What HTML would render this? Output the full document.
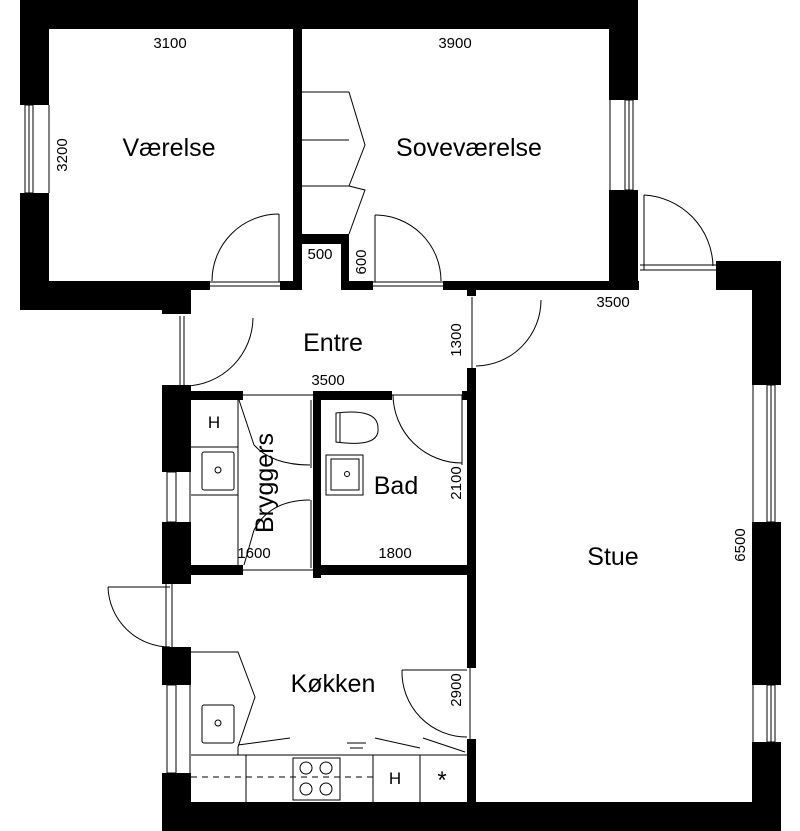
<!DOCTYPE html>
<html><head><meta charset="utf-8"><style>
html,body{margin:0;padding:0;background:#fff}
svg{display:block}
text{font-family:"Liberation Sans",sans-serif;fill:#000}
</style></head><body>
<svg width="800" height="831" viewBox="0 0 800 831" xmlns="http://www.w3.org/2000/svg">
<g fill="#000">
<rect x="20" y="0" width="618" height="29"/>
<rect x="20" y="0" width="29" height="105"/>
<rect x="20" y="193" width="29" height="117"/>
<rect x="20" y="281" width="171" height="29"/>
<rect x="162" y="281" width="29" height="33"/>
<rect x="49" y="281" width="161" height="9"/>
<rect x="293" y="29" width="9" height="261"/>
<rect x="280" y="281" width="22" height="9"/>
<rect x="302" y="234" width="47" height="10"/>
<rect x="341" y="234" width="8" height="56"/>
<rect x="341" y="281" width="32" height="9"/>
<rect x="609" y="0" width="29" height="100"/>
<rect x="609" y="190" width="29" height="100"/>
<rect x="443" y="281" width="196" height="9"/>
<rect x="716" y="261" width="65" height="29"/>
<rect x="752" y="261" width="29" height="124"/>
<rect x="752" y="522" width="29" height="163"/>
<rect x="752" y="742" width="29" height="89"/>
<rect x="162" y="802" width="619" height="29"/>
<rect x="467" y="281" width="9" height="15"/>
<rect x="467" y="368" width="9" height="300"/>
<rect x="467" y="739" width="9" height="63"/>
<rect x="162" y="385" width="29" height="87"/>
<rect x="162" y="522" width="29" height="62"/>
<rect x="162" y="647" width="29" height="38"/>
<rect x="162" y="773" width="29" height="58"/>
<rect x="191" y="391" width="52" height="9"/>
<rect x="313" y="391" width="79" height="9"/>
<rect x="462" y="391" width="14" height="9"/>
<rect x="313" y="391" width="8" height="187"/>
<rect x="191" y="565" width="52" height="10"/>
<rect x="313" y="565" width="163" height="10"/>
</g>
<g fill="none" stroke="#000" stroke-width="1">
<rect x="25" y="105" width="8" height="88"/><line x1="29" y1="105" x2="29" y2="193"/><line x1="49" y1="105" x2="49" y2="193"/>
<rect x="625" y="100" width="8" height="90"/><line x1="629" y1="100" x2="629" y2="190"/><line x1="610" y1="100" x2="610" y2="190"/>
<rect x="767" y="385" width="8" height="137"/><line x1="771" y1="385" x2="771" y2="522"/><line x1="753" y1="385" x2="753" y2="522"/>
<rect x="767" y="685" width="8" height="57"/><line x1="771" y1="685" x2="771" y2="742"/><line x1="753" y1="685" x2="753" y2="742"/>
<rect x="167" y="472" width="9" height="50"/><line x1="190" y1="472" x2="190" y2="522"/>
<rect x="167" y="685" width="9" height="88"/><line x1="190" y1="685" x2="190" y2="773"/>
<path d="M279 214 A67 67 0 0 0 212 281"/><line x1="279" y1="214" x2="279" y2="282"/><line x1="210" y1="282" x2="280" y2="282"/><line x1="210" y1="286" x2="280" y2="286"/>
<path d="M375 215 A66 66 0 0 1 441 281"/><line x1="375" y1="215" x2="375" y2="282"/><line x1="373" y1="282" x2="443" y2="282"/><line x1="373" y1="286" x2="443" y2="286"/>
<path d="M644 195 A73 73 0 0 1 713 266"/><line x1="644" y1="195" x2="644" y2="270"/><line x1="640" y1="265" x2="716" y2="265"/><line x1="640" y1="270" x2="716" y2="270"/>
<path d="M253 318 A69 69 0 0 1 186 386"/><line x1="184" y1="316" x2="184" y2="386"/><line x1="180" y1="316" x2="180" y2="386"/>
<path d="M541 300 A66 66 0 0 1 476 366"/><line x1="472" y1="297" x2="472" y2="368"/>
<path d="M393 395 A69 69 0 0 0 462 463"/><line x1="462" y1="395" x2="462" y2="465"/><line x1="392" y1="395" x2="462" y2="395"/>
<path d="M254 445 Q272 465 310 465"/><line x1="239" y1="400" x2="254" y2="445"/><line x1="243" y1="395" x2="313" y2="395"/><line x1="311" y1="400" x2="311" y2="468"/>
<path d="M310 500 Q270 500 254 530"/><line x1="254" y1="530" x2="244" y2="565"/><line x1="311" y1="500" x2="311" y2="568"/><line x1="243" y1="570" x2="313" y2="570"/>
<path d="M108 587 A62 62 0 0 0 170 647"/><line x1="108" y1="587" x2="170" y2="587"/><line x1="166" y1="584" x2="166" y2="647"/><line x1="172" y1="584" x2="172" y2="647"/>
<path d="M402 670 A65 65 0 0 0 467 737"/><line x1="470" y1="668" x2="470" y2="739"/><line x1="402" y1="670" x2="467" y2="670"/>
<line x1="302" y1="92" x2="349" y2="92"/><line x1="302" y1="140" x2="349" y2="140"/><line x1="302" y1="186" x2="349" y2="186"/>
<path d="M349 92 L365 145 L349 186 L365 190 L349 234"/>
<line x1="238" y1="400" x2="238" y2="565"/><line x1="191" y1="447" x2="238" y2="447"/><line x1="191" y1="495" x2="238" y2="495"/>
<rect x="202" y="452" width="32" height="38" rx="2"/><circle cx="218" cy="470" r="3"/>
<path d="M336 413 L336 442 Q380 448 378 428 Q378 408 336 413 Z"/><line x1="340" y1="413" x2="340" y2="442"/>
<rect x="326" y="455" width="37" height="40"/><rect x="331" y="459" width="28" height="31"/><circle cx="347" cy="474" r="2.5"/>
<path d="M191 652 L238 652 L255 697 L238 747 L238 755"/>
<rect x="202" y="705" width="32" height="38" rx="2"/><circle cx="218" cy="723" r="3"/>
<line x1="191" y1="755" x2="467" y2="755"/>
<line x1="246" y1="755" x2="246" y2="802"/><line x1="373" y1="755" x2="373" y2="802"/><line x1="420" y1="755" x2="420" y2="802"/>
<rect x="293" y="758" width="47" height="42"/>
<circle cx="306" cy="768" r="6"/><circle cx="326" cy="768" r="6"/><circle cx="306" cy="789" r="6"/><circle cx="326" cy="789" r="6"/>
<line x1="191" y1="777" x2="373" y2="777" stroke-dasharray="6,5"/>
<line x1="238" y1="745" x2="290" y2="738"/><line x1="375" y1="738" x2="420" y2="748"/><line x1="423" y1="738" x2="465" y2="752"/>
<line x1="347" y1="743" x2="366" y2="743"/><line x1="350" y1="748" x2="363" y2="748"/>
</g>
<g font-size="15">
<text x="170" y="48" text-anchor="middle">3100</text>
<text x="455" y="48" text-anchor="middle">3900</text>
<text x="320" y="259" text-anchor="middle">500</text>
<text x="328" y="385" text-anchor="middle">3500</text>
<text x="613" y="307" text-anchor="middle">3500</text>
<text x="254" y="558" text-anchor="middle">1600</text>
<text x="395" y="558" text-anchor="middle">1800</text>
<text text-anchor="middle" transform="translate(67,155) rotate(-90)">3200</text>
<text text-anchor="middle" transform="translate(366,262) rotate(-90)">600</text>
<text text-anchor="middle" transform="translate(461,340) rotate(-90)">1300</text>
<text text-anchor="middle" transform="translate(461,483) rotate(-90)">2100</text>
<text text-anchor="middle" transform="translate(461,690) rotate(-90)">2900</text>
<text text-anchor="middle" transform="translate(745,545) rotate(-90)">6500</text>
<text x="214" y="428" text-anchor="middle" font-size="17">H</text>
<text x="395" y="784" text-anchor="middle" font-size="17">H</text>
<text x="442" y="788" text-anchor="middle" font-size="24">*</text>
</g>
<g font-size="25">
<text x="169" y="156" text-anchor="middle">Værelse</text>
<text x="469" y="156" text-anchor="middle">Soveværelse</text>
<text x="333" y="351" text-anchor="middle">Entre</text>
<text x="396" y="494" text-anchor="middle">Bad</text>
<text x="613" y="565" text-anchor="middle">Stue</text>
<text x="333" y="692" text-anchor="middle">Køkken</text>
<text text-anchor="middle" transform="translate(273,483) rotate(-90)">Bryggers</text>
</g>
</svg>
</body></html>
